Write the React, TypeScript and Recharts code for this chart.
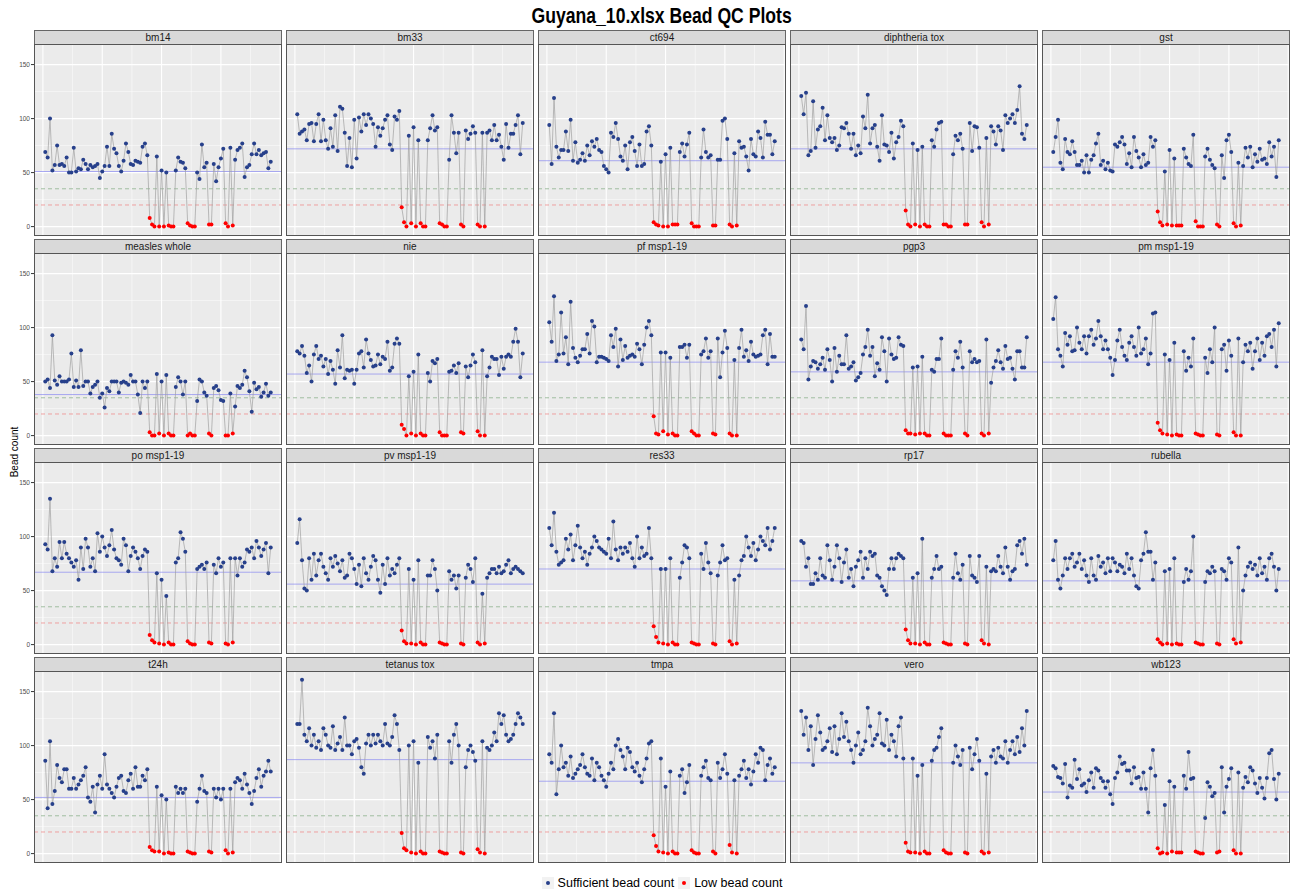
import React from 'react';
import { ComposedChart, Line, Scatter, XAxis, YAxis, CartesianGrid, ReferenceLine } from 'recharts';

const chartTitle = 'Guyana_10.xlsx Bead QC Plots';
const yAxisLabel = 'Bead count';
const legendLabels = ['Sufficient bead count', 'Low bead count'];
const yTicks = [0, 50, 100, 150];
const yMinorTicks = [25, 75, 125];
const xMajorTicks = [0, 25, 50, 75, 100];
const xMinorTicks = [12.5, 37.5, 62.5, 87.5];
const sufficientLine = 35;
const lowLine = 20;

const panelNames = [
  'bm14', 'bm33', 'ct694', 'diphtheria tox', 'gst',
  'measles whole', 'nie', 'pf msp1-19', 'pgp3', 'pm msp1-19',
  'po msp1-19', 'pv msp1-19', 'res33', 'rp17', 'rubella',
  't24h', 'tetanus tox', 'tmpa', 'vero', 'wb123',
];

const medianCounts = [51, 72, 61, 72, 55, 38, 57, 68, 59, 68, 67, 56, 70, 59, 59, 52, 87, 67, 84, 57];

const bm14 = [69,64,100,52,57,75,57,58,56,64, 50,50,73,51,54,53,62,58,53,57, 55,56,58,45,51,56,74,56,86,72, 68,56,51,61,77,69,58,57,61,60, 59,74,77,66, 8,2,0, 65,0,52,0,50, 1,0,0, 52,64,60,59,54, 3,1,0,0, 50,44,76,55,59, 2,2, 58,42,55,63,72, 3,0, 73,1, 62,71,73,77,46,55,57,67,77,67, 71,66,68,69,54,60];
const bm33 = [104,86,88,90,80,95,96,79,95,104, 79,99,80,72,91,74,103,70,111,109, 87,56,82,55,99,63,101,88,104,94, 104,100,95,74,92,84,91,99,103,76, 71,102,99,107, 18,4,0, 84,3,92,0,80, 3,0,0, 80,91,103,89,92, 3,2,0,0, 62,103,87,68,87, 2,0, 89,81,86,93,87, 2,0, 87,0, 87,89,80,94,80,85,74,62,95,73, 86,86,94,103,67,96];
const ct694 = [94,58,119,74,64,71,71,88,70,99, 61,78,59,62,68,61,75,66,79,74, 81,71,69,56,53,50,87,83,96,81, 65,61,75,53,78,83,70,56,76,56, 58,88,93,75, 4,2,1, 60,0,67,0,73, 2,2,2, 69,77,65,76,87, 3,0,0,0, 64,90,69,64,66, 1,1, 62,62,98,100,81, 2,0, 68,1, 79,73,74,65,52,81,67,65,88,82, 64,97,85,85,67,79];
const diphtheriaTox = [121,104,124,66,70,116,73,90,93,110, 80,103,82,78,82,71,75,92,91,96, 86,72,86,66,75,68,102,91,122,77, 91,94,74,61,103,76,75,69,87,63, 78,83,98,93, 15,2,0, 77,2,71,0,74, 2,0,0, 80,74,90,96,97, 2,2,0,0, 67,84,80,86,72, 2,2, 96,70,93,92,73, 4,0, 82,2, 93,88,76,93,89,71,103,96,100,104, 96,108,130,86,81,94];
const gst = [69,83,99,59,53,81,69,67,79,69, 57,57,61,50,66,50,62,66,77,86, 57,61,53,59,52,51,76,74,78,83, 76,58,68,55,83,70,64,55,67,57, 59,83,74,80, 14,4,1, 51,2,71,1,63, 1,1,1, 72,64,58,56,85, 5,0,0,0, 65,72,62,57,54, 2,0, 66,45,80,85,69, 3,0, 59,1, 56,73,64,74,55,67,60,72,62,63, 58,78,65,74,46,80];
const measlesWhole = [50,52,44,93,51,47,55,50,50,50, 52,76,45,51,45,79,46,50,50,39, 45,47,50,35,39,26,44,41,50,50, 50,40,49,50,49,47,56,50,50,38, 21,50,44,50, 3,0,0, 57,2,50,0,56, 2,0,0, 45,54,50,38,50, 0,2,0,0, 32,52,50,40,37, 2,0, 44,46,42,33,32, 0,0, 39,2, 27,46,44,47,60,54,41,22,49,43, 45,36,40,48,37,40];
const nie = [78,76,83,74,58,65,50,75,83,71, 74,64,71,57,69,61,48,79,63,93, 53,61,60,61,48,61,76,78,63,89, 76,70,64,65,75,66,73,71,87,60, 63,85,90,85, 10,6,0, 55,2,59,0,75, 2,0,0, 58,50,69,67,71, 3,0,0,0, 59,60,65,58,67, 3,2, 64,54,65,75,68, 4,0, 79,0, 55,63,73,71,71,56,73,62,73,75, 73,87,99,87,54,76];
const pfMsp119 = [105,87,129,69,75,114,76,91,66,124, 81,72,68,74,80,80,94,76,106,101, 68,73,73,72,71,69,93,82,99,64, 89,70,83,72,74,75,73,85,80,66, 84,100,106,93, 18,2,1, 77,4,77,1,72, 2,0,0, 82,82,84,72,84, 4,2,0,0, 75,78,90,72,78, 2,1, 90,54,77,97,81, 2,0, 70,0, 81,98,73,79,69,87,75,73,74,75, 93,98,66,94,73,73];
const pgp3 = [89,80,120,52,64,69,68,62,66,72, 61,80,70,50,81,59,74,66,66,93, 62,64,68,51,54,58,75,82,98,74, 82,55,67,61,91,78,50,90,75,71, 72,91,84,83, 5,2,2, 63,1,64,2,73, 2,0,0, 61,59,71,71,90, 2,0,0,0, 61,78,72,87,63, 2,0, 78,68,71,68,69, 2,0, 89,2, 49,63,69,79,68,62,83,71,72,62, 52,78,78,63,63,91];
const pmMsp119 = [108,128,80,74,64,95,84,92,78,79, 100,86,80,92,76,92,98,84,90,106, 92,80,88,80,72,56,70,88,98,82, 74,70,86,92,82,74,100,76,80,90, 66,76,113,114, 12,5,2, 75,1,70,0,86, 1,0,0, 78,60,72,64,90, 2,1,0,0, 72,58,80,68,100, 1,0, 80,84,60,88,74, 3,0, 90,0, 68,84,78,86,62,78,90,70,86,74, 92,94,82,98,64,104];
const poMsp119 = [93,88,135,68,80,72,95,80,95,84, 80,76,72,78,60,90,70,98,90,72, 80,68,103,86,100,90,82,92,106,88, 80,78,74,98,92,68,82,90,86,80, 70,82,88,86, 9,4,2, 66,1,60,0,45, 2,0,0, 76,80,104,98,86, 3,1,0,0, 70,72,74,70,76, 2,1, 74,66,80,72,76, 1,0, 80,2, 80,64,80,72,76,88,86,90,80,96, 90,82,88,94,66,90];
const pvMsp119 = [94,116,78,52,50,80,60,84,64,78, 84,72,66,60,80,72,82,75,68,78, 62,64,84,80,70,56,74,54,80,66, 60,72,82,78,60,48,74,56,80,64, 70,66,74,80, 13,3,1, 70,1,60,0,78, 2,0,0, 64,64,78,70,50, 2,1,0,0, 68,60,64,52,64, 1,0, 62,74,70,58,80, 2,0, 47,1, 62,66,70,70,66,72,66,68,74,78, 66,70,72,70,68,66];
const res33 = [108,92,122,86,74,76,78,98,88,102, 78,92,110,90,80,86,74,84,90,100, 96,90,88,86,84,98,80,114,88,78, 90,84,90,86,94,80,72,100,80,90, 82,84,108,80, 17,7,2, 70,1,70,0,80, 2,0,0, 62,76,92,90,80, 2,1,0,0, 84,70,94,76,66, 1,0, 64,76,92,78,80, 3,0, 60,1, 64,78,82,100,90,82,94,78,88,100, 96,92,108,88,96,108];
const rp17 = [96,94,72,80,56,56,66,60,80,64, 62,92,78,60,72,92,80,58,76,88, 62,70,54,72,78,86,62,80,70,86, 82,84,64,62,54,50,46,70,80,70, 80,84,82,80, 14,4,1, 62,1,66,0,98, 2,0,0, 62,70,82,70,72, 2,1,0,0, 62,84,66,60,74, 1,0, 82,64,62,58,82, 4,1, 72,0, 68,70,68,82,72,66,90,72,60,68, 70,92,96,84,98,74];
const rubella = [78,96,60,52,64,80,70,80,84,72, 76,84,70,78,64,58,80,64,60,82, 72,76,66,80,68,80,76,68,74,72, 66,84,70,80,64,54,52,78,84,104, 86,86,60,76, 5,2,0, 68,1,70,0,80, 1,0,0, 58,70,60,68,100, 2,1,0,0, 58,68,66,72,68, 1,0, 70,68,60,80,76, 5,1, 90,2, 50,64,72,76,70,74,64,80,66,72, 60,80,84,72,50,70];
const t24h = [86,42,104,46,58,82,70,66,78,78, 60,60,70,60,64,68,72,80,52,48, 62,38,64,72,60,92,64,60,56,52, 62,70,72,58,56,68,74,60,80,62, 62,72,68,78, 6,3,2, 62,2,54,0,50, 1,0,0, 62,56,60,56,60, 2,1,0,0, 48,60,72,58,56, 2,1, 60,52,60,50,60, 3,0, 60,1, 66,70,68,60,74,64,56,46,58,70, 78,62,72,76,86,76];
const tetanusTox = [120,120,161,110,104,116,100,110,98,104, 96,116,110,100,98,118,96,102,108,96, 126,100,100,92,104,106,98,80,74,102, 110,100,110,102,110,104,100,120,102,100, 108,128,120,96, 19,5,3, 100,1,104,0,84, 2,0,0, 108,98,104,88,110, 2,1,0,0, 104,84,110,120,100, 1,0, 80,96,100,94,86, 4,1, 104,0, 98,96,100,112,104,130,120,128,110,104, 106,110,120,130,126,120];
const tmpa = [92,84,130,55,78,100,80,84,72,90, 70,74,78,82,92,80,74,72,88,68, 84,80,72,68,62,74,84,78,100,106, 96,90,78,98,94,80,76,84,72,66, 78,88,102,104, 17,7,2, 88,1,62,0,76, 2,0,0, 72,78,56,66,82, 3,1,0,0, 72,80,86,70,68, 2,0, 84,70,78,92,74, 8,1, 68,0, 72,78,86,70,78,64,76,92,84,98, 96,68,82,88,74,80];
const vero = [132,110,126,96,118,82,106,128,112,96, 98,104,116,94,118,92,106,130,108,122, 104,96,84,100,112,92,96,104,135,118, 100,106,110,130,102,100,124,96,110,104, 90,118,126,88, 10,2,1, 88,1,72,0,82, 2,0,0, 86,96,98,108,116, 3,1,0,0, 84,100,90,82,96, 1,0, 98,78,92,106,86, 2,0, 74,1, 90,96,84,98,90,88,104,84,96,104, 92,108,94,116,100,132];
const wb123 = [81,79,71,70,65,83,52,63,61,87, 69,78,63,65,57,68,75,61,79,77, 70,67,61,67,55,46,70,75,90,83, 84,77,77,65,80,70,71,60,75,60, 38,79,96,72, 5,0,1, 45,0,67,2,62, 1,1,1, 72,60,94,69,70, 2,1,0,0, 33,66,62,53,56, 1,2, 80,38,62,69,79, 3,0, 75,0, 61,71,66,80,77,65,56,70,61,51, 70,93,96,69,50,74];

const panelValues = [
  bm14, bm33, ct694, diphtheriaTox, gst,
  measlesWhole, nie, pfMsp119, pgp3, pmMsp119,
  poMsp119, pvMsp119, res33, rp17, rubella,
  t24h, tetanusTox, tmpa, vero, wb123,
];

const FONT = '"Liberation Sans", Arial, Helvetica, sans-serif';
const BLUE = '#27408B';
const RED = '#FF0000';
const PANEL_W = 248;
const PANEL_H = 191.3;
const PITCH_X = 252;
const PITCH_Y = 209;
const LEFT0 = 34;
const TOP0 = 44.4;
const STRIP_H = 14.4;
const AXIS_W = 26;
const X_DOMAIN: [number, number] = [-3.75, 100.75];
const Y_DOMAIN: [number, number] = [-8.05, 169.05];

const PointShape = (props: any) => {
  const { cx, cy, payload } = props;
  if (cx == null || cy == null) return null;
  return <circle cx={cx} cy={cy} r={2} fill={payload.count < lowLine ? RED : BLUE} />;
};

function Facet({ name, values, median, col, row }: { name: string; values: number[]; median: number; col: number; row: number }) {
  const data = values.map((v, i) => ({ well: i + 1, count: v }));
  const showY = col === 0;
  const left = LEFT0 + col * PITCH_X;
  const top = TOP0 + row * PITCH_Y;
  const chartW = PANEL_W + (showY ? AXIS_W : 0);
  return (
    <>
      <div
        style={{
          position: 'absolute', left, top: top - STRIP_H, width: PANEL_W, height: STRIP_H,
          background: '#D9D9D9', boxSizing: 'border-box', border: '1px solid #666666', borderBottom: 'none',
          fontFamily: FONT, fontSize: 10, color: '#1A1A1A', textAlign: 'center', lineHeight: `${STRIP_H - 1}px`,
        }}
      >
        {name}
      </div>
      <div style={{ position: 'absolute', left: left - (showY ? AXIS_W : 0), top, width: chartW, height: PANEL_H }}>
        <ComposedChart width={chartW} height={PANEL_H} data={data} margin={{ top: 0, right: 0, bottom: 0, left: 0 }}>
          <XAxis type="number" dataKey="well" domain={X_DOMAIN} hide allowDataOverflow />
          <YAxis
            type="number"
            domain={Y_DOMAIN}
            allowDataOverflow
            hide={!showY}
            width={AXIS_W}
            ticks={yTicks}
            interval={0}
            axisLine={false}
            tickSize={3}
            tickMargin={1}
            tickLine={{ stroke: '#333333' }}
            tick={{ fontSize: 6.5, fill: '#4D4D4D', fontFamily: FONT }}
          />
          <CartesianGrid
            fill="#EBEBEB"
            fillOpacity={1}
            stroke="#FFFFFF"
            strokeWidth={1.1}
            horizontalValues={yTicks}
            verticalValues={xMajorTicks}
          />
          <CartesianGrid stroke="#FFFFFF" strokeWidth={0.5} horizontalValues={yMinorTicks} verticalValues={xMinorTicks} />
          <ReferenceLine y={median} stroke="#8A8AF0" strokeWidth={0.7} />
          <ReferenceLine y={sufficientLine} stroke="#7FA87F" strokeWidth={0.7} strokeDasharray="4 3" />
          <ReferenceLine y={lowLine} stroke="#EE7F7F" strokeWidth={0.7} strokeDasharray="4 3" />
          <Line type="linear" dataKey="count" stroke="#A0A0A0" strokeWidth={0.7} dot={false} isAnimationActive={false} />
          <Scatter data={data} dataKey="count" isAnimationActive={false} shape={PointShape} />
        </ComposedChart>
      </div>
      <div
        style={{
          position: 'absolute', left, top, width: PANEL_W, height: PANEL_H, boxSizing: 'border-box',
          border: '1px solid #555555', pointerEvents: 'none',
        }}
      />
    </>
  );
}

export default function App() {
  return (
    <div style={{ position: 'absolute', left: 0, top: 0, width: 1295, height: 891, background: '#FFFFFF', overflow: 'hidden', fontFamily: FONT }}>
      <div
        style={{
          position: 'absolute', left: LEFT0, top: 3, width: 5 * PITCH_X - 4, textAlign: 'center',
        }}
      >
        <span
          style={{
            display: 'inline-block', fontSize: 22, fontWeight: 'bold', color: '#000', fontFamily: FONT,
            transform: 'scaleX(0.8)', transformOrigin: 'center', whiteSpace: 'nowrap',
          }}
        >
          {chartTitle}
        </span>
      </div>
      <div
        style={{
          position: 'absolute', left: 14, top: 452, transform: 'translate(-50%, -50%) rotate(-90deg)',
          whiteSpace: 'nowrap', fontSize: 10, color: '#000', fontFamily: FONT,
        }}
      >
        {yAxisLabel}
      </div>
      {panelNames.map((name, k) => (
        <Facet key={name} name={name} values={panelValues[k]} median={medianCounts[k]} col={k % 5} row={Math.floor(k / 5)} />
      ))}
      <div
        style={{
          position: 'absolute', left: LEFT0, top: 874, width: 5 * PITCH_X - 4, height: 17,
          display: 'flex', justifyContent: 'center', alignItems: 'center', fontSize: 12.5, fontFamily: FONT, color: '#000',
        }}
      >
        {legendLabels.map((lab, i) => (
          <div key={lab} style={{ display: 'flex', alignItems: 'center', marginRight: i === 0 ? 4 : 0 }}>
            <svg width={12} height={12} style={{ marginRight: 4 }}>
              <rect x={0} y={0} width={12} height={12} fill="#F2F2F2" />
              <circle cx={6} cy={6} r={2} fill={i === 0 ? BLUE : RED} />
            </svg>
            <span>{lab}</span>
          </div>
        ))}
      </div>
    </div>
  );
}
